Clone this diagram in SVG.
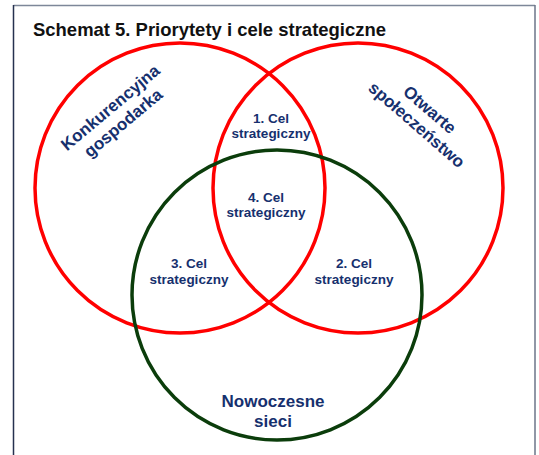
<svg xmlns="http://www.w3.org/2000/svg" width="539" height="455" viewBox="0 0 539 455">
  <style>
    .ring-red { fill: none; stroke: #ff0000; stroke-width: 3.5; }
    .ring-green { fill: none; stroke: #0b3d0b; stroke-width: 3.5; }
    .big { font-family: "Liberation Sans", Arial, sans-serif; font-weight: bold; font-size: 17px; fill: #16306e; text-anchor: middle; }
    .goal { font-family: "Liberation Sans", Arial, sans-serif; font-weight: bold; font-size: 13.5px; fill: #16306e; text-anchor: middle; }
    .title { font-family: "Liberation Sans", Arial, sans-serif; font-weight: bold; font-size: 18.5px; fill: #111111; }
  </style>
  <rect width="539" height="455" fill="#ffffff"/>
  <g id="frame">
    <line x1="13.5" y1="5.5" x2="535" y2="5.5" stroke="#7d8799" stroke-width="1.5"/>
    <line x1="535" y1="5" x2="535" y2="455" stroke="#6b7488" stroke-width="1.5"/>
    <line x1="13.5" y1="5" x2="13.5" y2="455" stroke="#26314f" stroke-width="1.5"/>
  </g>
  <text class="title" x="33" y="36" textLength="353" lengthAdjust="spacingAndGlyphs">Schemat 5. Priorytety i cele strategiczne</text>

  <g id="konkurencyjna-gospodarka">
    <circle class="ring-red" cx="180" cy="188" r="145"/>
    <text class="big" transform="translate(114,112) rotate(-40)"><tspan x="0" y="0">Konkurencyjna</tspan><tspan x="0" y="20">gospodarka</tspan></text>
  </g>
  <g id="otwarte-spoleczenstwo">
    <circle class="ring-red" cx="358" cy="188" r="145"/>
    <text class="big" transform="translate(426,114) rotate(41)"><tspan x="0" y="0">Otwarte</tspan><tspan x="0" y="20">społeczeństwo</tspan></text>
  </g>
  <g id="nowoczesne-sieci">
    <circle class="ring-green" cx="277" cy="295" r="145"/>
    <text class="big"><tspan x="273" y="407">Nowoczesne</tspan><tspan x="273" y="427">sieci</tspan></text>
  </g>

  <g id="cel-1">
    <text class="goal"><tspan x="271" y="122.5">1. Cel</tspan><tspan x="271" y="138">strategiczny</tspan></text>
  </g>
  <g id="cel-2">
    <text class="goal"><tspan x="354" y="268">2. Cel</tspan><tspan x="354" y="284">strategiczny</tspan></text>
  </g>
  <g id="cel-3">
    <text class="goal"><tspan x="189" y="268">3. Cel</tspan><tspan x="189" y="284">strategiczny</tspan></text>
  </g>
  <g id="cel-4">
    <text class="goal"><tspan x="266" y="201.5">4. Cel</tspan><tspan x="266" y="217">strategiczny</tspan></text>
  </g>
  <g id="connectors"/>
</svg>
